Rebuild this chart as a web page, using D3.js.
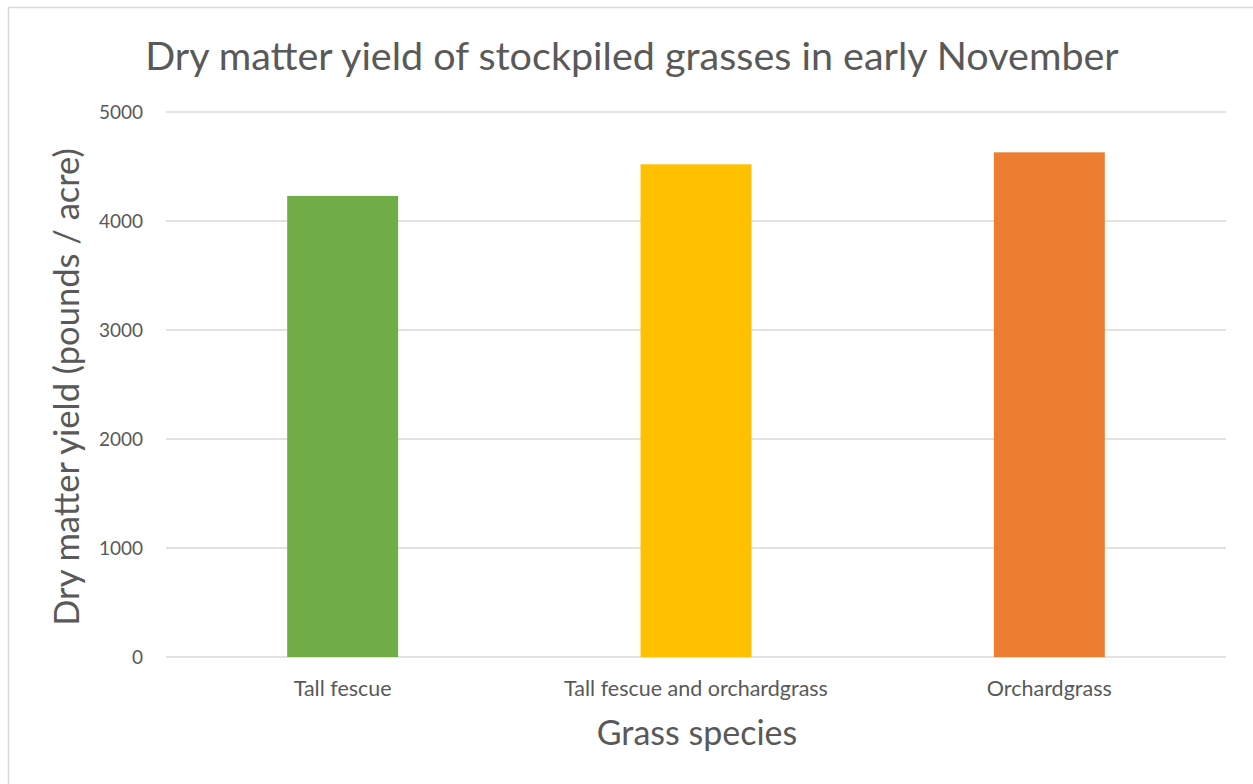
<!DOCTYPE html>
<html>
<head>
<meta charset="utf-8">
<script src="https://cdn.jsdelivr.net/npm/d3@7"></script>
<style>
  body { margin: 0; background: #fff; }
  svg text { font-family: Lato, "Noto Sans", sans-serif; fill: #595959; }
</style>
</head>
<body>
<div class="chart"></div>
<script>
// data
var species = ["Tall fescue", "Tall fescue and orchardgrass", "Orchardgrass"];
var yields = [4230, 4520, 4630];
var barColors = ["#70ad47", "#ffc000", "#ed7d31"];
var yTicks = [0, 1000, 2000, 3000, 4000, 5000];

var w = 1253, h = 784;
var plot = { left: 166, right: 1226, top: 112, bottom: 657 };

var svg = d3.select(".chart")
    .append("svg")
    .attr("width", w)
    .attr("height", h);

// chart frame
svg.append("rect")
    .attr("x", 8.5).attr("y", 7.5)
    .attr("width", w + 10).attr("height", h + 10)
    .attr("fill", "none")
    .attr("stroke", "#d9d9d9")
    .attr("stroke-width", 1.5);

var x = d3.scaleBand()
    .domain(species)
    .range([plot.left, plot.right])
    .padding(0);

var y = d3.scaleLinear()
    .domain([0, 5000])
    .range([plot.bottom, plot.top]);

// gridlines
svg.append("g")
    .selectAll("line")
    .data(yTicks)
    .enter()
    .append("line")
    .attr("x1", plot.left).attr("x2", plot.right)
    .attr("y1", function (d) { return y(d); })
    .attr("y2", function (d) { return y(d); })
    .attr("stroke", "#d9d9d9")
    .attr("stroke-width", 1.5);

// y tick labels
svg.append("g")
    .selectAll("text")
    .data(yTicks)
    .enter()
    .append("text")
    .attr("x", 143)
    .attr("y", function (d) { return y(d); })
    .attr("dy", "0.35em")
    .attr("text-anchor", "end")
    .style("font-size", "19px")
    .text(function (d) { return d; });

// bars
var barW = x.bandwidth() * 0.314;
svg.append("g")
    .selectAll("rect")
    .data(yields)
    .enter()
    .append("rect")
    .attr("x", function (d, i) { return x(species[i]) + x.bandwidth() / 2 - barW / 2; })
    .attr("y", function (d) { return y(d); })
    .attr("width", barW)
    .attr("height", function (d) { return y(0) - y(d); })
    .attr("fill", function (d, i) { return barColors[i]; });

// x tick labels
svg.append("g")
    .selectAll("text")
    .data(species)
    .enter()
    .append("text")
    .attr("x", function (d) { return x(d) + x.bandwidth() / 2; })
    .attr("y", 696)
    .attr("text-anchor", "middle")
    .style("font-size", "21.5px")
    .text(function (d) { return d; });

// titles
svg.append("text")
    .attr("x", 632).attr("y", 70)
    .attr("text-anchor", "middle")
    .style("font-size", "39.5px")
    .text("Dry matter yield of stockpiled grasses in early November");

svg.append("text")
    .attr("x", 697).attr("y", 745)
    .attr("text-anchor", "middle")
    .style("font-size", "34px")
    .text("Grass species");

svg.append("text")
    .attr("transform", "translate(79,387) rotate(-90)")
    .attr("text-anchor", "middle")
    .style("font-size", "34.5px")
    .text("Dry matter yield (pounds / acre)");
</script>
</body>
</html>
